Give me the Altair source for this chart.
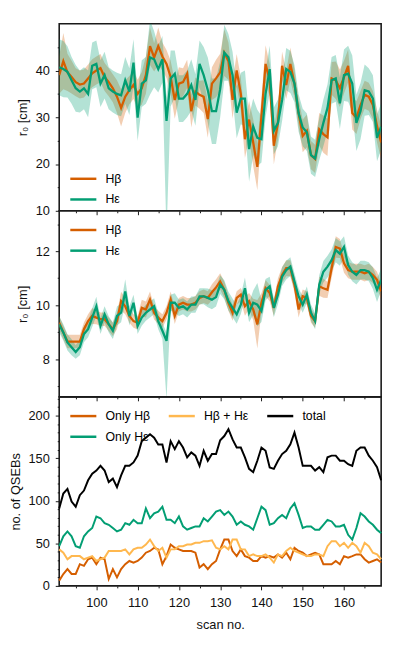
import altair as alt
import pandas as pd

scans = list(range(91, 170))

# Panel 1: r0 [cm], broad
r0a_hb = [39.0, 42.0, 39.6, 38.6, 37.5, 37.0, 37.2, 38.3, 39.4, 40.0,
          40.5, 38.6, 37.5, 36.2, 34.4, 32.0, 34.4, 35.8, 36.9, 35.0,
          36.2, 39.0, 45.2, 42.8, 45.2, 43.0, 41.4, 38.6, 33.7, 37.2,
          37.5, 39.3, 31.3, 35.5, 34.8, 34.4, 29.6, 37.2, 38.3, 39.6,
          43.8, 42.0, 33.7, 40.0, 35.0, 25.3, 29.5, 24.6, 19.4, 30.2,
          41.4, 37.9, 23.9, 28.8, 41.0, 36.9, 41.4, 37.2, 30.9, 26.0,
          27.1, 21.9, 21.1, 27.4, 26.4, 25.7, 38.3, 37.9, 36.2, 38.6,
          41.0, 30.9, 29.9, 32.6, 34.8, 34.4, 32.6, 28.1, 24.6]
r0a_he = [40.7, 40.3, 39.7, 37.9, 36.2, 35.5, 36.2, 35.0, 41.0, 41.4,
          37.2, 39.0, 36.2, 35.5, 35.0, 34.7, 37.9, 35.5, 41.7, 29.9,
          37.2, 37.9, 42.8, 42.4, 40.3, 42.4, 29.2, 38.3, 39.3, 34.0,
          34.0, 35.0, 36.9, 33.7, 41.4, 39.0, 35.8, 31.3, 31.3, 36.0,
          43.8, 42.8, 39.0, 31.0, 34.0, 34.0, 23.2, 28.0, 25.6, 25.3,
          35.0, 40.3, 27.1, 28.8, 33.7, 40.3, 39.7, 37.2, 30.9, 27.8,
          26.8, 21.9, 21.2, 25.3, 28.8, 32.0, 37.9, 38.3, 33.0, 39.0,
          39.3, 37.2, 28.8, 31.3, 35.8, 35.5, 34.0, 25.6, 28.0]
erra_hb = [4, 6, 4, 3.5, 3, 3, 3, 3, 3, 3,
           3, 3, 3, 3, 3.5, 4, 3.5, 3, 3, 3,
           3.5, 4, 4, 3, 4, 3, 3, 3.5, 4, 3.5,
           3, 3, 3.5, 3, 3, 3.5, 4, 3.5, 4, 4,
           5, 4, 4, 3.5, 3.5, 4, 4, 5, 5, 4,
           4, 3.5, 4, 3.5, 3, 3, 3.5, 3, 3, 3.5,
           3.5, 3, 3, 3.5, 4, 4, 3.5, 4, 4, 3.5,
           3.5, 3.5, 3.5, 3, 3, 3, 3, 3.5, 3.5]
erra_he = [6, 6, 5.5, 5, 5, 4.5, 4.5, 5, 5, 5,
           5, 5, 4.5, 4.5, 4.5, 4.5, 5, 5, 5, 5,
           5, 5, 8, 6, 5, 5, 5, 6, 5, 5,
           5, 5, 5.5, 5.5, 5, 6, 7, 7, 7, 6,
           6, 5, 5, 5.5, 5.5, 6, 7, 6, 6, 5,
           5, 5, 5, 5, 4.5, 4.5, 4.5, 4, 4, 4,
           4, 4, 4, 4.5, 5, 5, 5, 5, 5.5, 5.5,
           6, 6, 6, 6, 5.5, 5, 5, 5, 5]
lowa_he_override = {117: 5.0}

# Panel 2: r0 [cm], narrow
r0b_hb = [9.35, 8.99, 8.65, 8.65, 8.65, 8.65, 9.11, 9.41, 9.6, 9.54,
          9.48, 9.48, 9.29, 9.11, 9.41, 10.15, 9.96, 9.6, 9.41, 9.35,
          9.9, 9.84, 10.21, 9.72, 9.54, 9.41, 9.72, 10.21, 9.6, 10.02,
          10.09, 10.02, 10.02, 10.09, 10.27, 10.33, 10.27, 10.48, 10.66, 10.88,
          10.57, 10.09, 9.72, 10.27, 10.39, 9.96, 10.15, 9.84, 9.29, 10.09,
          10.63, 10.45, 9.9, 10.7, 11.12, 11.37, 11.37, 10.76, 9.84, 10.33,
          10.27, 9.6, 9.41, 10.7, 10.63, 10.57, 11.37, 12.16, 12.1, 11.55,
          11.3, 11.24, 11.24, 11.24, 11.18, 11.24, 11.12, 10.94, 10.51]
r0b_he = [9.29, 8.99, 8.62, 8.44, 8.26, 8.44, 8.93, 9.11, 9.54, 9.96,
          9.23, 9.66, 9.29, 9.05, 9.6, 9.72, 10.51, 9.6, 10.09, 9.23,
          9.54, 9.72, 9.84, 9.96, 9.41, 9.05, 8.68, 10.09, 10.09, 9.9,
          9.96, 9.84, 10.02, 10.02, 10.33, 10.33, 10.27, 10.2, 10.3, 10.76,
          10.57, 10.15, 9.9, 9.66, 10.02, 10.63, 9.72, 10.09, 10.02, 9.78,
          10.57, 10.7, 9.9, 10.39, 11.06, 11.3, 11.43, 10.88, 10.33, 10.02,
          10.39, 9.72, 9.41, 10.76, 11.24, 11.43, 11.67, 12.04, 11.91, 12.16,
          11.49, 11.24, 11.12, 11.3, 11.3, 11.24, 11.0, 10.57, 10.94]
errb_hb = [0.25, 0.25, 0.25, 0.25, 0.25, 0.25, 0.25, 0.25, 0.3, 0.25,
           0.25, 0.25, 0.25, 0.25, 0.3, 0.35, 0.3, 0.25, 0.25, 0.25,
           0.3, 0.3, 0.3, 0.25, 0.25, 0.25, 0.25, 0.3, 0.3, 0.25,
           0.25, 0.25, 0.25, 0.25, 0.25, 0.25, 0.25, 0.3, 0.3, 0.3,
           0.3, 0.3, 0.3, 0.25, 0.25, 0.35, 0.3, 0.4, 0.9, 0.35,
           0.3, 0.3, 0.3, 0.3, 0.3, 0.3, 0.3, 0.3, 0.3, 0.25,
           0.25, 0.25, 0.25, 0.35, 0.35, 0.3, 0.35, 0.4, 0.35, 0.35,
           0.3, 0.3, 0.3, 0.3, 0.3, 0.3, 0.3, 0.3, 0.3]
errb_he = [0.3, 0.3, 0.3, 0.3, 0.25, 0.3, 0.3, 0.3, 0.35, 0.35,
           0.3, 0.3, 0.3, 0.3, 0.35, 0.35, 0.45, 0.35, 0.3, 0.3,
           0.3, 0.3, 0.3, 0.3, 0.3, 0.3, 0.3, 0.3, 0.35, 0.3,
           0.3, 0.3, 0.3, 0.3, 0.3, 0.3, 0.35, 0.35, 0.35, 0.35,
           0.35, 0.35, 0.35, 0.35, 0.35, 0.4, 0.35, 0.45, 0.8, 0.4,
           0.4, 0.35, 0.35, 0.35, 0.35, 0.35, 0.35, 0.3, 0.3, 0.3,
           0.3, 0.3, 0.3, 0.35, 0.4, 0.4, 0.4, 0.45, 0.45, 0.4,
           0.35, 0.35, 0.35, 0.35, 0.35, 0.35, 0.4, 0.45, 0.4]
lowb_he_override = {117: 6.5}

# Panel 3: number of QSEBs
only_hb = [6.2, 14, 19.7, 14, 14, 25.5, 23.6, 31.3, 33.2, 25.5,
           33.2, 31.3, 8.1, 19.7, 10, 19.7, 25.5, 29.3, 27.4, 29.3,
           33.2, 39, 41, 44.8, 42.9, 25.5, 35, 48.6, 44.8, 42.9,
           41, 41, 41, 39, 21.6, 25.5, 19.7, 25.5, 29.3, 42.9,
           54.4, 54.4, 41, 35, 42.9, 35, 33.2, 29.3, 29.3, 35,
           33.2, 35, 33.2, 37, 33.2, 39, 31.3, 44.8, 41, 39,
           35, 37, 39, 37, 25.5, 25.5, 25.5, 29.3, 25.5, 35,
           33.2, 35, 37, 37, 31.3, 27.4, 29.3, 31.3, 27.4]
only_he = [46.7, 58.3, 64, 58.3, 46.7, 44.8, 58.3, 64, 68, 81.5,
           79.5, 73.7, 71.8, 68, 64, 66, 73.7, 71.8, 77.6, 73.7,
           73.7, 91, 79.5, 85.3, 87.3, 93, 77.6, 77.6, 73.7, 81.5,
           69.9, 66, 68, 69.9, 69.9, 79.5, 75.7, 81.5, 87.3, 89,
           83.4, 87.3, 81.5, 71.8, 75.7, 71.8, 69.9, 66, 79.5, 93,
           89, 71.8, 73.7, 79.5, 83.4, 79.5, 91, 97, 83.4, 68,
           69.9, 69.9, 66, 66, 71.8, 77.6, 75.7, 69.9, 69.9, 71.8,
           60, 54.4, 68, 85.3, 81.5, 75.7, 71.8, 66, 62]
both = [42.9, 39, 31.3, 35, 35, 35, 31.3, 33.2, 35, 29.3,
        31.3, 33.2, 41, 41, 41, 41, 42.9, 37, 42.9, 44.8,
        44.8, 48.6, 54.4, 46.7, 41, 44.8, 33.2, 42.9, 42.9, 46.7,
        46.7, 48.6, 48.6, 50.6, 50.6, 52.5, 52.5, 53.5, 44.8, 42.9,
        46.7, 42.9, 54.4, 54.4, 42.9, 42.9, 35, 37, 35, 35,
        37, 33.2, 27.4, 37, 35, 41, 44.8, 41, 39, 37,
        35, 35, 37, 37, 35, 46.7, 52.5, 52.5, 46.7, 50.6,
        44.8, 50.6, 46.7, 39, 50.6, 46.7, 39, 37, 31.3]
total = [91, 108.5, 114, 99, 93, 106.6, 112, 124, 131.7, 135.5,
         141, 135.5, 122, 126, 116, 129.7, 141, 141, 145, 153,
         170, 174, 178, 174, 166, 166, 145, 170, 160.6, 170,
         162.5, 151, 156.8, 153, 141, 158.7, 147, 155, 155, 171,
         176, 184, 172, 162.5, 162.5, 151, 137.5, 133.6, 147, 162.5,
         158.7, 139, 137.5, 147, 154.8, 158.7, 166.4, 180, 162.5, 141,
         141, 141, 135.5, 139.4, 133.6, 151, 153, 153, 147, 147,
         143, 141, 158.7, 162.5, 162.5, 153, 147, 139.4, 124]

C_HB = "#d55e00"
C_HE = "#029e73"
C_BOTH = "#ffb84f"
C_TOT = "#000000"
FONT = "Liberation Sans"

rows1, rows2, rows3 = [], [], []
for i, s in enumerate(scans):
    lo_he = lowa_he_override.get(s, r0a_he[i] - erra_he[i])
    rows1.append({"scan": s, "series": "Hβ", "v": r0a_hb[i], "lo": r0a_hb[i] - erra_hb[i], "hi": r0a_hb[i] + erra_hb[i]})
    rows1.append({"scan": s, "series": "Hε", "v": r0a_he[i], "lo": lo_he, "hi": r0a_he[i] + erra_he[i]})
    lo_he2 = lowb_he_override.get(s, r0b_he[i] - errb_he[i])
    rows2.append({"scan": s, "series": "Hβ", "v": r0b_hb[i], "lo": r0b_hb[i] - errb_hb[i], "hi": r0b_hb[i] + errb_hb[i]})
    rows2.append({"scan": s, "series": "Hε", "v": r0b_he[i], "lo": lo_he2, "hi": r0b_he[i] + errb_he[i]})
    rows3.append({"scan": s, "series": "Only Hβ", "v": only_hb[i]})
    rows3.append({"scan": s, "series": "Only Hε", "v": only_he[i]})
    rows3.append({"scan": s, "series": "Hβ + Hε", "v": both[i]})
    rows3.append({"scan": s, "series": "total", "v": total[i]})
df1, df2, df3 = pd.DataFrame(rows1), pd.DataFrame(rows2), pd.DataFrame(rows3)

W = 327
xvals = list(range(95, 170, 5))
xscale = alt.Scale(domain=[91, 169], nice=False, zero=False)


def tick_size(test):
    return {"condition": {"test": test, "value": 4}, "value": 2}


def major_test(majors):
    return "(" + " || ".join(f"abs(datum.value - {m}) < 0.001" for m in majors) + ")"


def xaxis(show):
    test = major_test(list(range(100, 170, 10)))
    if show:
        return alt.Axis(values=xvals, tickSize=tick_size(test), title="scan no.",
                        labelExpr=f"{test} ? format(datum.value, 'd') : ''", labelPadding=7,
                        titlePadding=9, labelOverlap=False)
    return alt.Axis(values=xvals, tickSize=tick_size(test), labels=False, title=None)


def yaxis(vals, majors, title):
    test = major_test(majors)
    return alt.Axis(values=vals, tickSize=tick_size(test), title=title,
                    labelExpr=f"{test} ? format(datum.value, 'd') : ''", labelPadding=6,
                    titlePadding=6, labelOverlap=False)


def make_legend(y, cols=1):
    kw = {}
    if cols > 1:
        kw = {"columns": cols, "columnPadding": 13}
    return alt.Legend(title=None, orient="none", legendX=10, legendY=y,
                      symbolType="stroke", symbolSize=700, symbolStrokeWidth=2.5,
                      labelFont=FONT, labelFontSize=12.5, labelOffset=8, rowPadding=-8.5,
                      padding=0, **kw)


def r0_panel(df, domain, yvals, majors, show_x, h, leg_y):
    base = alt.Chart(df)
    dom = ["Hβ", "Hε"]
    rng = [C_HB, C_HE]
    ysc = alt.Scale(domain=domain, nice=False, zero=False)
    yax = yaxis(yvals, majors, "r₀ [cm]")
    xax = xaxis(show_x)
    layers = []
    for ser, col in zip(dom, rng):
        layers.append(base.transform_filter(alt.datum.series == ser).mark_area(
            opacity=0.3, clip=True, color=col).encode(
            x=alt.X("scan:Q", scale=xscale, axis=xax),
            y=alt.Y("lo:Q", scale=ysc, axis=yax),
            y2="hi:Q",
        ))
    layers.append(base.mark_line(strokeWidth=2.3, clip=True).encode(
        x=alt.X("scan:Q", scale=xscale, axis=xax),
        y=alt.Y("v:Q", scale=ysc, axis=yax),
        color=alt.Color("series:N", scale=alt.Scale(domain=dom, range=rng), legend=make_legend(leg_y)),
    ))
    return alt.layer(*layers).properties(width=W, height=h)


p1 = r0_panel(df1, [10, 50], list(range(10, 50, 5)), [10, 20, 30, 40], False, 190, 143)
p2 = r0_panel(df2, [6.6, 13.5], list(range(7, 14)), [8, 10, 12], False, 189, 5)

dom3 = ["Only Hβ", "total", "Hβ + Hε", "Only Hε"]
rng3 = [C_HB, C_TOT, C_BOTH, C_HE]
p3 = alt.Chart(df3).mark_line(strokeWidth=2).encode(
    x=alt.X("scan:Q", scale=xscale, axis=xaxis(True)),
    y=alt.Y("v:Q", scale=alt.Scale(domain=[0, 222], nice=False),
            axis=yaxis(list(range(0, 221, 10)), [0, 50, 100, 150, 200], "no. of QSEBs")),
    color=alt.Color("series:N", scale=alt.Scale(domain=dom3, range=rng3), legend=make_legend(5, 3)),
).properties(width=W, height=192)

chart = alt.vconcat(p1, p2, p3, spacing=0, bounds="flush").resolve_scale(
    color="independent", y="independent"
).properties(
    padding={"left": 0, "top": 10, "right": 5, "bottom": 5}
).configure_view(
    stroke="#1a1a1a", strokeWidth=1.6
).configure_axis(
    domain=False, grid=False, labelFont=FONT, labelFontSize=13, labelColor="#111",
    titleFont=FONT, titleFontSize=13, titleFontWeight="normal", titleColor="#111",
    tickColor="#1a1a1a", tickWidth=1
)

chart.save("out.html", embed_options={"renderer": "svg", "actions": False})
